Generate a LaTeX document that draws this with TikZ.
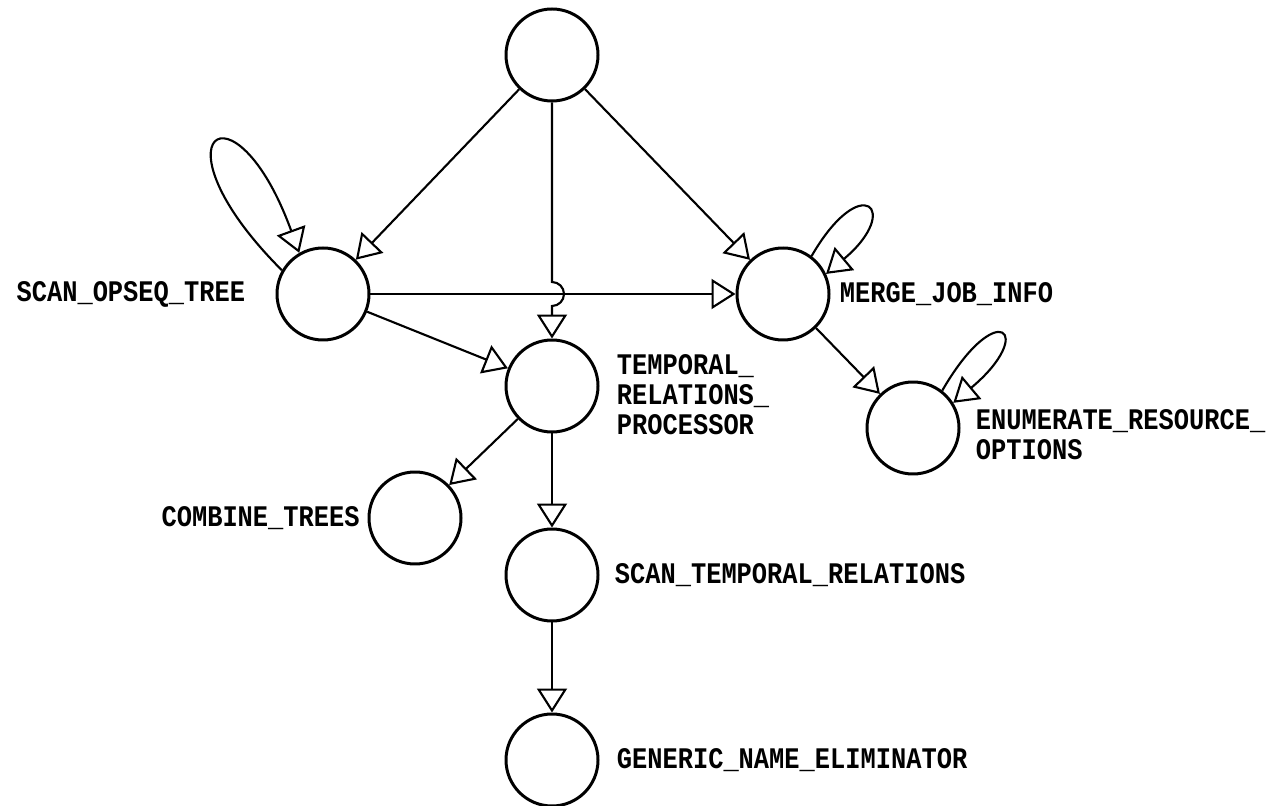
\documentclass[tikz,border=0pt]{standalone}
\usepackage{fontspec}
\newfontfamily\lblfont[FakeStretch=0.85]{Liberation Mono}
\usetikzlibrary{arrows.meta,positioning}

\begin{document}
\begin{tikzpicture}
\tikzset{proc/.style={circle,draw,line width=1.7pt,minimum size=1.84cm,inner sep=0pt},
  lbl/.style={font=\lblfont\bfseries\fontsize{17}{17}\selectfont,inner sep=0pt,align=left},
  flow/.style={-{Triangle[open,length=0.48cm,width=0.6cm]},line width=1.2pt}}
\useasboundingbox (0,0) rectangle (25.52,-16.12);
% the procedures
\node[proc] (top) at (11.04,-1.10) {};
\node[proc] (so) at (6.46,-5.88) {};
\node[proc] (mj) at (15.66,-5.88) {};
\node[proc] (trp) at (11.04,-7.72) {};
\node[proc] (ero) at (18.26,-8.56) {};
\node[proc] (ct) at (8.30,-10.36) {};
\node[proc] (str) at (11.04,-11.50) {};
\node[proc] (gne) at (11.04,-15.20) {};
% their names
\node[lbl,left=0.6cm of so] (soname) {SCAN\_OPSEQ\_TREE};
\node[lbl,right=0.18cm of mj] (mjname) {MERGE\_JOB\_INFO};
\node[lbl,right=0.34cm of trp,yshift=-0.18cm] (trpname) {TEMPORAL\_\\RELATIONS\_\\PROCESSOR};
\node[lbl,right=0.3cm of ero,yshift=-0.14cm] (eroname) {ENUMERATE\_RESOURCE\_\\OPTIONS};
\node[lbl,left=0.15cm of ct] (ctname) {COMBINE\_TREES};
\node[lbl,right=0.3cm of str] (strname) {SCAN\_TEMPORAL\_RELATIONS};
\node[lbl,right=0.34cm of gne] (gnename) {GENERIC\_NAME\_ELIMINATOR};
% calls
\foreach \a/\b in {top/so,top/mj,so/mj,so/trp,mj/ero,trp/ct,trp/str,str/gne}
    \draw[flow] (\a) -- (\b);
% the call into TEMPORAL hops over so -> mj
\path (top |- so) ++(0,0.24) coordinate (hopin);
\draw[flow] (top) -- (hopin) arc[start angle=90,end angle=-90,radius=0.24] -- (trp);
% recursive calls
\draw[flow] (so.150) .. controls +(135:3.8) and +(110:3.8) .. (so.120);
\draw[flow] (mj.53) .. controls +(60:2.0) and +(40:2.0) .. (mj.25);
\draw[flow] (ero.52) .. controls +(60:2.2) and +(40:2.2) .. (ero.32);
\end{tikzpicture}
\end{document}
